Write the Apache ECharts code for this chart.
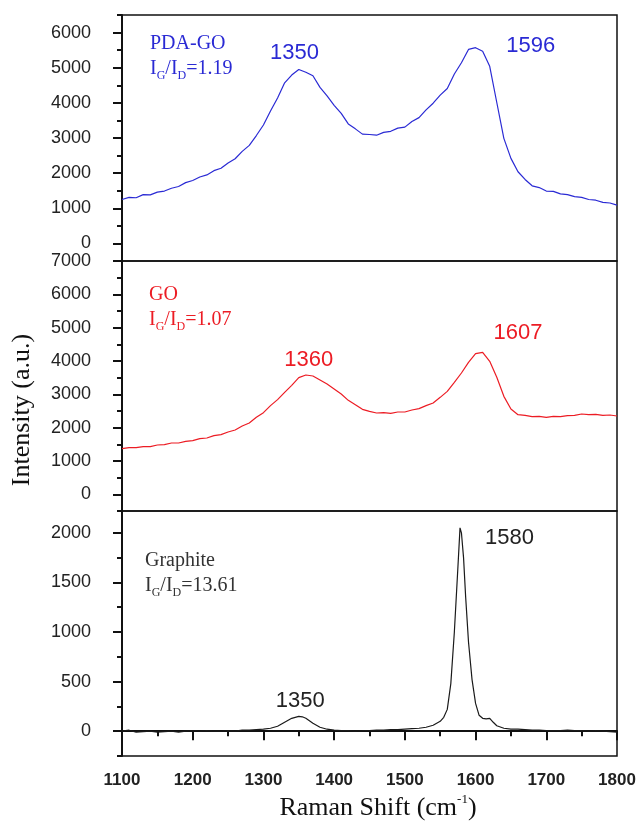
<!DOCTYPE html>
<html>
<head>
<meta charset="utf-8">
<script src="https://cdn.jsdelivr.net/npm/echarts@6/dist/echarts.min.js"></script>
<style>
html, body { margin: 0; padding: 0; background: #fff; }
#chart { width: 638px; height: 836px; }
</style>
</head>
<body>
<div id="chart"></div>
<script>
// Raman shift (cm-1), 10 cm-1 steps, shared by PDA-GO and GO
const shift = [1100, 1110, 1120, 1130, 1140, 1150, 1160, 1170, 1180, 1190,
  1200, 1210, 1220, 1230, 1240, 1250, 1260, 1270, 1280, 1290,
  1300, 1310, 1320, 1330, 1340, 1350, 1360, 1370, 1380, 1390,
  1400, 1410, 1420, 1430, 1440, 1450, 1460, 1470, 1480, 1490,
  1500, 1510, 1520, 1530, 1540, 1550, 1560, 1570, 1580, 1590,
  1600, 1610, 1620, 1630, 1640, 1650, 1660, 1670, 1680, 1690,
  1700, 1710, 1720, 1730, 1740, 1750, 1760, 1770, 1780, 1790, 1800];

const pdaGo = [1250, 1310, 1300, 1390, 1380, 1460, 1490, 1570, 1620, 1730,
  1790, 1890, 1950, 2070, 2140, 2290, 2410, 2620, 2790, 3070,
  3370, 3770, 4140, 4570, 4790, 4950, 4870, 4770, 4440, 4200,
  3930, 3700, 3400, 3260, 3110, 3100, 3080, 3160, 3190, 3280,
  3310, 3470, 3580, 3800, 3990, 4220, 4410, 4820, 5140, 5520,
  5570, 5470, 5040, 4010, 2990, 2420, 2040, 1820, 1640, 1590,
  1490, 1480, 1410, 1390, 1330, 1310, 1250, 1230, 1170, 1150, 1090];

const go = [1370, 1400, 1400, 1430, 1430, 1480, 1490, 1540, 1540, 1590,
  1610, 1670, 1690, 1760, 1790, 1870, 1930, 2050, 2140, 2310,
  2450, 2660, 2840, 3060, 3270, 3500, 3580, 3550, 3430, 3310,
  3160, 3010, 2820, 2690, 2550, 2490, 2440, 2450, 2430, 2470,
  2470, 2530, 2570, 2660, 2740, 2910, 3090, 3360, 3640, 3960,
  4220, 4260, 3990, 3510, 2940, 2560, 2390, 2370, 2330, 2340,
  2310, 2340, 2330, 2360, 2370, 2410, 2390, 2400, 2370, 2380, 2350];

// Graphite has finer steps around the sharp G band
const shiftGraphite = [1100, 1110, 1120, 1130, 1140, 1150, 1160, 1170, 1180, 1190,
  1200, 1210, 1220, 1230, 1240, 1250, 1260, 1270, 1280, 1290,
  1300, 1310, 1320, 1330, 1340, 1350, 1355, 1360, 1370, 1380, 1390,
  1400, 1410, 1420, 1430, 1440, 1450, 1460, 1470, 1480, 1490,
  1500, 1510, 1520, 1530, 1540, 1550, 1555, 1560, 1565, 1570, 1575, 1578,
  1580, 1583, 1586, 1590, 1595, 1600, 1605, 1610, 1615, 1620, 1625, 1630,
  1640, 1650, 1660, 1670, 1680, 1690, 1700, 1710, 1720, 1730, 1740,
  1750, 1760, 1770, 1780, 1790, 1800];

const graphite = [0, 10, -10, -5, 0, -10, -5, 0, -10, 0,
  5, 0, 5, 0, 0, 5, 0, 10, 10, 15,
  20, 30, 50, 90, 130, 150, 145, 130, 80, 40, 20,
  10, 5, 5, 0, 5, 5, 10, 10, 15, 15,
  20, 25, 30, 40, 60, 100, 140, 220, 480, 1000, 1650, 2050,
  2000, 1750, 1350, 900, 520, 280, 160, 130, 125, 130, 90, 55,
  30, 20, 20, 15, 10, 10, 5, 5, 5, 10, 5,
  5, 0, 5, 0, -5, -10];

const topTicks = [0, 1000, 2000, 3000, 4000, 5000, 6000];
const topMinor = [-500, 500, 1500, 2500, 3500, 4500, 5500, 6500];
const midTicks = [0, 1000, 2000, 3000, 4000, 5000, 6000, 7000];
const midMinor = [-500, 500, 1500, 2500, 3500, 4500, 5500, 6500];
const botTicks = [0, 500, 1000, 1500, 2000];
const botMinor = [-250, 250, 750, 1250, 1750];

const pairs = (xs, ys) => xs.map((x, i) => [x, ys[i]]);

const sans = "'Liberation Sans', Arial, sans-serif";
const serif = "'Liberation Serif', 'Times New Roman', serif";
const ink = '#111';
const plain = v => String(v);

function yAxes(grid, min, max, majors, minors) {
  return [{
    type: 'value', gridIndex: grid, min: min, max: max, position: 'left',
    axisLine: { show: true, lineStyle: { color: ink, width: 2 } },
    axisTick: { show: true, length: 9, customValues: majors, lineStyle: { color: ink, width: 2 } },
    axisLabel: { customValues: majors, formatter: plain, fontSize: 18, fontFamily: sans, color: '#222', margin: 31 },
    splitLine: { show: false }
  }, {
    type: 'value', gridIndex: grid, min: min, max: max, position: 'left',
    axisLine: { show: false },
    axisTick: { show: true, length: 5, customValues: minors, lineStyle: { color: ink, width: 2 } },
    axisLabel: { show: false },
    splitLine: { show: false }
  }];
}

function hiddenX(grid) {
  return {
    type: 'value', gridIndex: grid, min: 1100, max: 1800,
    axisLine: { show: false }, axisTick: { show: false },
    axisLabel: { show: false }, splitLine: { show: false }
  };
}

function peak(text, x, y, color) {
  return {
    coord: [x, y], value: text, symbolSize: 0,
    label: { show: true, position: 'inside', formatter: '{c}', color: color, fontSize: 22, fontFamily: sans }
  };
}

function ratioText(left, top, name, ratio, color) {
  const main = { fontSize: 20, fontFamily: serif, fill: color, lineHeight: 26, verticalAlign: 'middle' };
  const sub = { fontSize: 12, fontFamily: serif, fill: color, lineHeight: 12, verticalAlign: 'bottom' };
  return [{
    type: 'text', left: left, top: top,
    style: { text: name, font: '20px ' + serif, fill: color }
  }, {
    type: 'text', left: left, top: top + 25,
    style: {
      text: '{m|I}{s|G}{m|/I}{s|D}{m|=' + ratio + '}',
      rich: { m: main, s: sub }
    }
  }];
}

const blue = '#2a2ad4';
const red = '#ec1c24';
const black = '#1a1a1a';

let myChart = echarts.init(document.getElementById('chart'));
myChart.setOption({
  backgroundColor: '#fff',
  animation: false,
  grid: [
    { left: 122, top: 15, width: 495, height: 246, show: true, borderColor: ink, borderWidth: 1.5, outerBoundsMode: 'none' },
    { left: 122, top: 261, width: 495, height: 250, show: true, borderColor: ink, borderWidth: 1.5, outerBoundsMode: 'none' },
    { left: 122, top: 511, width: 495, height: 245, show: true, borderColor: ink, borderWidth: 1.5, outerBoundsMode: 'none' }
  ],
  xAxis: [
    hiddenX(0),
    hiddenX(1),
    {
      type: 'value', gridIndex: 2, min: 1100, max: 1800, interval: 100,
      axisLine: { show: true, lineStyle: { color: ink, width: 2 } },
      axisTick: { show: true, length: 9, lineStyle: { color: ink, width: 2 } },
      minorTick: { show: true, splitNumber: 2, length: 5, lineStyle: { color: ink, width: 2 } },
      axisLabel: { formatter: plain, fontSize: 17, fontWeight: 'bold', fontFamily: sans, color: '#222', margin: 16 },
      splitLine: { show: false }
    }
  ],
  yAxis: [].concat(
    yAxes(0, -500, 6500, topTicks, topMinor),
    yAxes(1, -500, 7000, midTicks, midMinor),
    yAxes(2, -250, 2220, botTicks, botMinor)
  ),
  series: [
    {
      name: 'PDA-GO', type: 'line', xAxisIndex: 0, yAxisIndex: 0,
      data: pairs(shift, pdaGo), showSymbol: false,
      lineStyle: { color: blue, width: 1.2 },
      markPoint: { data: [peak('1350', 1344, 5430, blue), peak('1596', 1678, 5610, blue)] }
    },
    {
      name: 'GO', type: 'line', xAxisIndex: 1, yAxisIndex: 2,
      data: pairs(shift, go), showSymbol: false,
      lineStyle: { color: red, width: 1.2 },
      markPoint: { data: [peak('1360', 1364, 4020, red), peak('1607', 1660, 4830, red)] }
    },
    {
      name: 'Graphite', type: 'line', xAxisIndex: 2, yAxisIndex: 4,
      data: pairs(shiftGraphite, graphite), showSymbol: false,
      lineStyle: { color: black, width: 1.2 },
      markPoint: { data: [peak('1350', 1352, 305, '#222'), peak('1580', 1648, 1950, '#222')] }
    }
  ],
  graphic: [].concat(
    ratioText(150, 34, 'PDA-GO', '1.19', blue),
    ratioText(149, 285, 'GO', '1.07', red),
    ratioText(145, 551, 'Graphite', '13.61', '#333'),
    [{
      type: 'text', x: 22, y: 410, rotation: Math.PI / 2,
      style: { text: 'Intensity (a.u.)', font: '26px ' + serif, fill: '#111', align: 'center', verticalAlign: 'middle' }
    }, {
      type: 'text', x: 378, y: 808,
      style: {
        text: '{m|Raman Shift (cm}{s|-1}{m|)}',
        align: 'center', verticalAlign: 'middle',
        rich: {
          m: { fontSize: 26, fontFamily: serif, fill: '#111', lineHeight: 30, verticalAlign: 'middle' },
          s: { fontSize: 13, fontFamily: serif, fill: '#111', lineHeight: 13, verticalAlign: 'top' }
        }
      }
    }]
  )
});
</script>
</body>
</html>
